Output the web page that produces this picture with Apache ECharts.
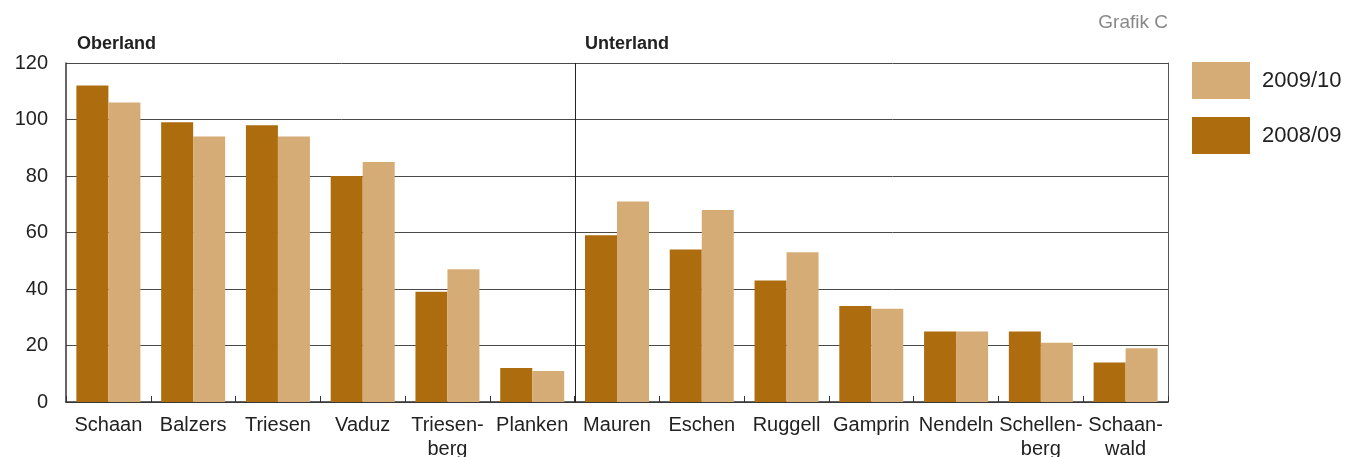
<!DOCTYPE html>
<html>
<head>
<meta charset="utf-8">
<script src="https://cdn.jsdelivr.net/npm/echarts@6/dist/echarts.min.js"></script>
<style>html,body{margin:0;padding:0;background:#fff;overflow:hidden}#c{width:1349px;height:457px}</style>
</head>
<body>
<div id="c"></div>
<script>
const categories = ['Schaan','Balzers','Triesen','Vaduz','Triesen-\nberg','Planken','Mauren','Eschen','Ruggell','Gamprin','Nendeln','Schellen-\nberg','Schaan-\nwald'];
const values0809 = [112, 99, 98, 80, 39, 12, 59, 54, 43, 34, 25, 25, 14];
const values0910 = [106, 94, 94, 85, 47, 11, 71, 68, 53, 33, 25, 21, 19];
const yTicks = [0, 20, 40, 60, 80, 100, 120];
const regionLabels = ['Oberland', 'Unterland'];
const regionSplitIndex = 6;
const sourceLabel = 'Grafik C';

const FONT = '"Liberation Sans", Arial, sans-serif';
const DARK = '#AD6C0E';
const LIGHT = '#D6AC76';

const chart = echarts.init(document.getElementById('c'));
chart.setOption({
  animation: false,
  textStyle: { fontFamily: FONT },
  title: [
    { text: regionLabels[0], left: 72, top: 30, textStyle: { fontFamily: FONT, fontSize: 18, fontWeight: 'bold', color: '#222' } },
    { text: regionLabels[1], left: 580, top: 30, textStyle: { fontFamily: FONT, fontSize: 18, fontWeight: 'bold', color: '#222' } },
    { text: sourceLabel, right: 176, top: 8, textStyle: { fontFamily: FONT, fontSize: 19, fontWeight: 'normal', color: '#888' } }
  ],
  legend: {
    orient: 'vertical',
    left: 1187,
    top: 57,
    itemWidth: 58,
    itemHeight: 37,
    itemGap: 18,
    icon: 'rect',
    data: ['2009/10', '2008/09'],
    textStyle: { fontFamily: FONT, fontSize: 22, color: '#222', padding: [0, 0, 0, 7] }
  },
  grid: { left: 66, right: 181, top: 63, bottom: 55, containLabel: false, outerBoundsMode: 'none' },
  xAxis: {
    type: 'category',
    data: categories,
    boundaryGap: true,
    axisLine: { show: true, lineStyle: { color: '#333', width: 1.5 } },
    axisTick: { show: true, inside: true, length: 6, lineStyle: { color: '#333' } },
    axisLabel: { fontFamily: FONT, fontSize: 20, color: '#222', margin: 11, lineHeight: 24, interval: 0 },
    splitLine: { show: false }
  },
  yAxis: [
    {
      type: 'value',
      min: 0, max: 120, interval: 20,
      axisLine: { show: true, lineStyle: { color: '#333', width: 1.5 } },
      axisTick: { show: false },
      axisLabel: { fontFamily: FONT, fontSize: 20, color: '#222', margin: 18,
        formatter: function (v) { return yTicks.indexOf(v) >= 0 ? String(v) : ''; } },
      splitLine: { show: true, lineStyle: { color: '#4a4a4a', width: 1 } }
    },
    {
      type: 'value', position: 'right',
      min: 0, max: 120, interval: 20,
      axisLine: { show: true, lineStyle: { color: '#555', width: 1 } },
      axisTick: { show: false }, axisLabel: { show: false }, splitLine: { show: false }
    }
  ],
  series: [
    { name: '2008/09', type: 'bar', data: values0809, itemStyle: { color: DARK }, barWidth: 32, barGap: '0%' },
    { name: '2009/10', type: 'bar', data: values0910, itemStyle: { color: LIGHT }, barWidth: 32, barGap: '0%' }
  ]
});

// region separator between Planken and Mauren, positioned through the axis scales
const xa = chart.convertToPixel({ xAxisIndex: 0 }, regionSplitIndex - 1);
const xb = chart.convertToPixel({ xAxisIndex: 0 }, regionSplitIndex);
const xs = Math.round((xa + xb) / 2) + 0.5;
const yTop = chart.convertToPixel({ yAxisIndex: 0 }, 120);
const yBot = chart.convertToPixel({ yAxisIndex: 0 }, 0);
chart.setOption({
  graphic: [{
    type: 'line', silent: true, z: 10,
    shape: { x1: xs, y1: yTop, x2: xs, y2: yBot },
    style: { stroke: '#222', lineWidth: 1 }
  }]
});
</script>
</body>
</html>
